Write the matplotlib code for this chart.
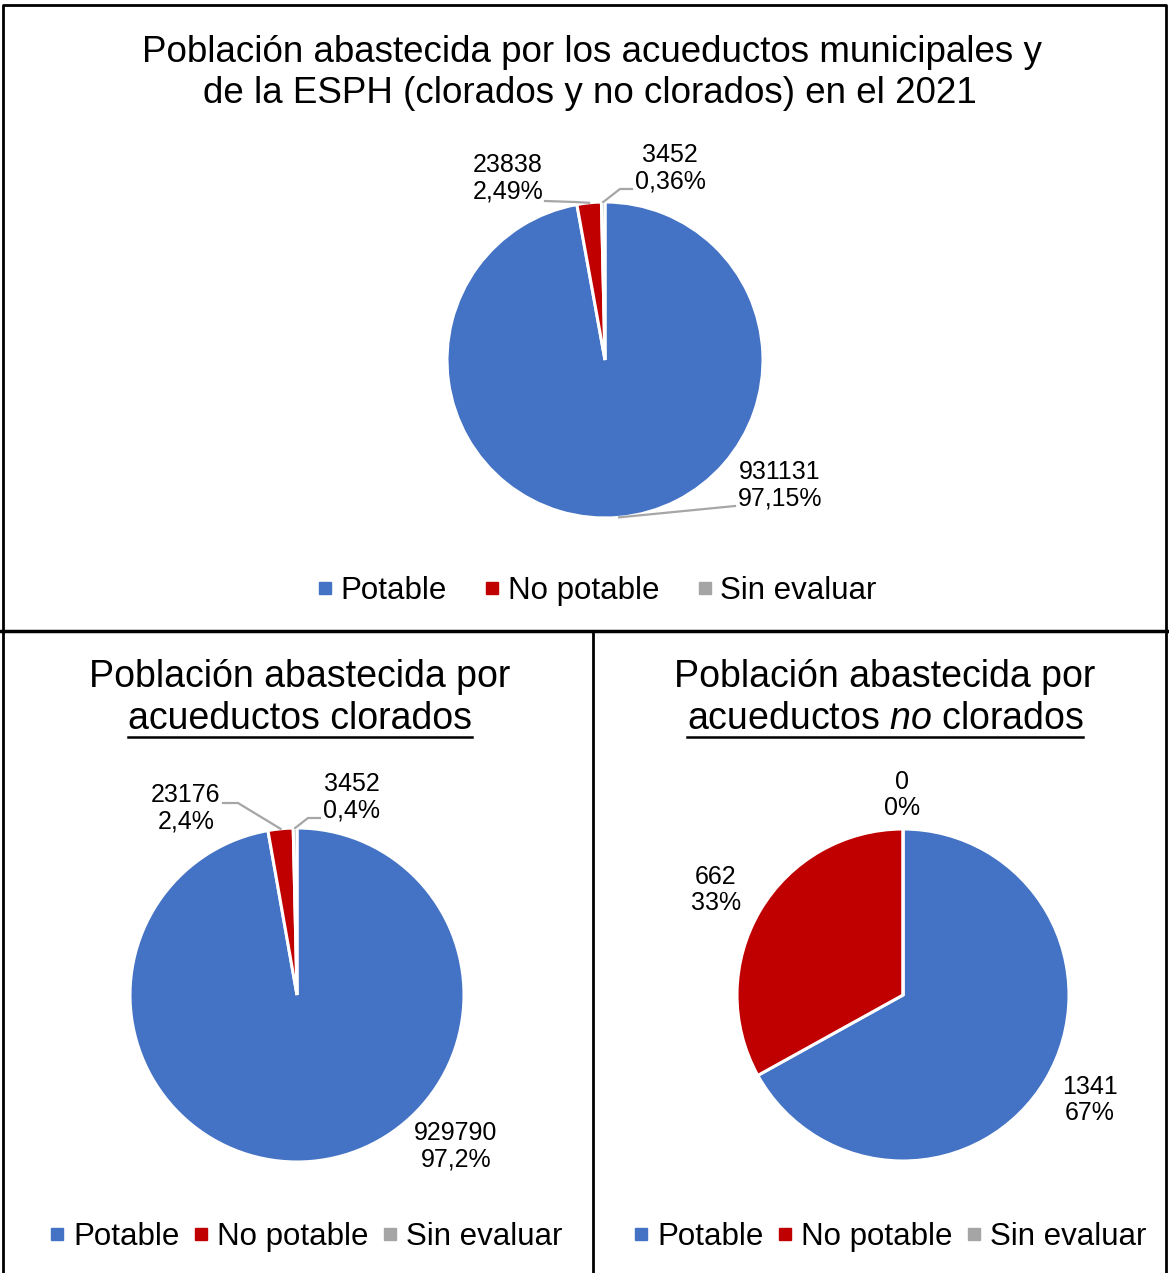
import numpy as np
import matplotlib
matplotlib.use("Agg")
import matplotlib.pyplot as plt
from matplotlib.lines import Line2D

plt.rcParams['font.family'] = ['Liberation Sans', 'DejaVu Sans']
plt.rcParams['mathtext.fontset'] = 'custom'
plt.rcParams['mathtext.it'] = 'Liberation Sans:italic'
plt.rcParams['mathtext.rm'] = 'Liberation Sans'

W, H = 1169, 1273

categories = ['Potable', 'No potable', 'Sin evaluar']
colors = ['#4472C4', '#C00000', '#A5A5A5']

total_vals = [931131, 23838, 3452]
total_pct = ['97,15%', '2,49%', '0,36%']

clor_vals = [929790, 23176, 3452]
clor_pct = ['97,2%', '2,4%', '0,4%']

noclor_vals = [1341, 662, 0]
noclor_pct = ['67%', '33%', '0%']

fig = plt.figure(figsize=(W / 100, H / 100), dpi=100)
ax = fig.add_axes([0, 0, 1, 1])


def Y(y):
    # image row -> data y (y up)
    return H - y


def mid_point(vals, i, cx, cy, r):
    # point on the rim at the middle of wedge i (start 90, clockwise)
    frac = np.cumsum([0] + list(vals)) / sum(vals)
    ang = np.deg2rad(90 - 360 * (frac[i] + frac[i + 1]) / 2)
    return cx + r * np.cos(ang), Y(cy) + r * np.sin(ang)


def draw_pie(vals, cx, cy, r):
    ax.pie(vals, colors=colors, startangle=90, counterclock=False,
           center=(cx, Y(cy)), radius=r,
           wedgeprops=dict(edgecolor='white', linewidth=2.2))


lab_fs = 18
lab_ls = 1.15
lead = dict(color='#A6A6A6', lw=1.6)

# ---- top pie
cx, cy, r = 605, 360, 158
draw_pie(total_vals, cx, cy, r)
label_pos = [(780, 485), (508, 178), (670, 168)]
for i in range(3):
    x, y = label_pos[i]
    ax.text(x, Y(y), f'{total_vals[i]}\n{total_pct[i]}', ha='center', va='center',
            fontsize=lab_fs, linespacing=lab_ls)
px, py = mid_point(total_vals, 0, cx, cy, r)
ax.plot([px, 735], [py, Y(506)], **lead)
px, py = mid_point(total_vals, 1, cx, cy, r)
ax.plot([px, 575, 545], [py, Y(202), Y(201)], **lead)
px, py = mid_point(total_vals, 2, cx, cy, r)
ax.plot([px, 620, 632], [py, Y(189), Y(189)], **lead)

# ---- bottom left pie
cx, cy, r = 297, 995, 167
draw_pie(clor_vals, cx, cy, r)
label_pos = [(456, 1146), (186, 808), (352, 797)]
for i in range(3):
    x, y = label_pos[i]
    ax.text(x, Y(y), f'{clor_vals[i]}\n{clor_pct[i]}', ha='center', va='center',
            fontsize=lab_fs, linespacing=lab_ls)
px, py = mid_point(clor_vals, 1, cx, cy, r)
ax.plot([px, 238, 223], [py, Y(803), Y(803)], **lead)
px, py = mid_point(clor_vals, 2, cx, cy, r)
ax.plot([px, 308, 320], [py, Y(818), Y(818)], **lead)

# ---- bottom right pie
cx, cy, r = 903, 995, 166
draw_pie(noclor_vals, cx, cy, r)
label_pos = [(1090, 1100), (716, 890), (902, 795)]
for i in range(3):
    x, y = label_pos[i]
    ax.text(x, Y(y), f'{noclor_vals[i]}\n{noclor_pct[i]}', ha='center', va='center',
            fontsize=lab_fs, linespacing=lab_ls)

ax.set_xlim(0, W)
ax.set_ylim(0, H)
ax.set_aspect('auto')
ax.axis('off')

# ---- titles
ax.text(592, Y(62), 'Población abastecida por los acueductos municipales y',
        ha='center', va='baseline', fontsize=26.5)
ax.text(590, Y(103), 'de la ESPH (clorados y no clorados) en el 2021',
        ha='center', va='baseline', fontsize=26.5)

ax.text(300, Y(687), 'Población abastecida por', ha='center', va='baseline', fontsize=27)
t1 = ax.text(300, Y(729), 'acueductos clorados', ha='center', va='baseline', fontsize=27)
ax.text(885, Y(687), 'Población abastecida por', ha='center', va='baseline', fontsize=27)
t2 = ax.text(885, Y(729), r'acueductos $\it{no}$ clorados', ha='center', va='baseline',
             fontsize=27)

fig.canvas.draw()
inv = ax.transData.inverted()
for t in (t1, t2):
    bb = t.get_window_extent()
    (x0, _), (x1, _) = inv.transform([(bb.x0, 0), (bb.x1, 0)])
    ax.plot([x0, x1], [Y(737), Y(737)], color='black', lw=1.8)

# ---- legends
handles = [Line2D([], [], marker='s', ls='', color=c, markersize=9) for c in colors]
for (lx, ly, cs) in [(597, 591, 1.2), (306, 1237, 0.45), (890, 1237, 0.45)]:
    fig.legend(handles, categories, loc='center', ncol=3, frameon=False,
               bbox_to_anchor=(lx / W, 1 - ly / H), fontsize=22.5,
               handlelength=0.5, handletextpad=0.25, columnspacing=cs)

# ---- panel borders
bl = dict(color='black', lw=2)
ax.plot([3, 3, 1166, 1166], [0, Y(5), Y(5), 0], **bl)
ax.plot([0, W], [Y(631), Y(631)], color='black', lw=2.5)
ax.plot([593, 593], [Y(632), 0], **bl)

fig.savefig('out.png', dpi=100)
